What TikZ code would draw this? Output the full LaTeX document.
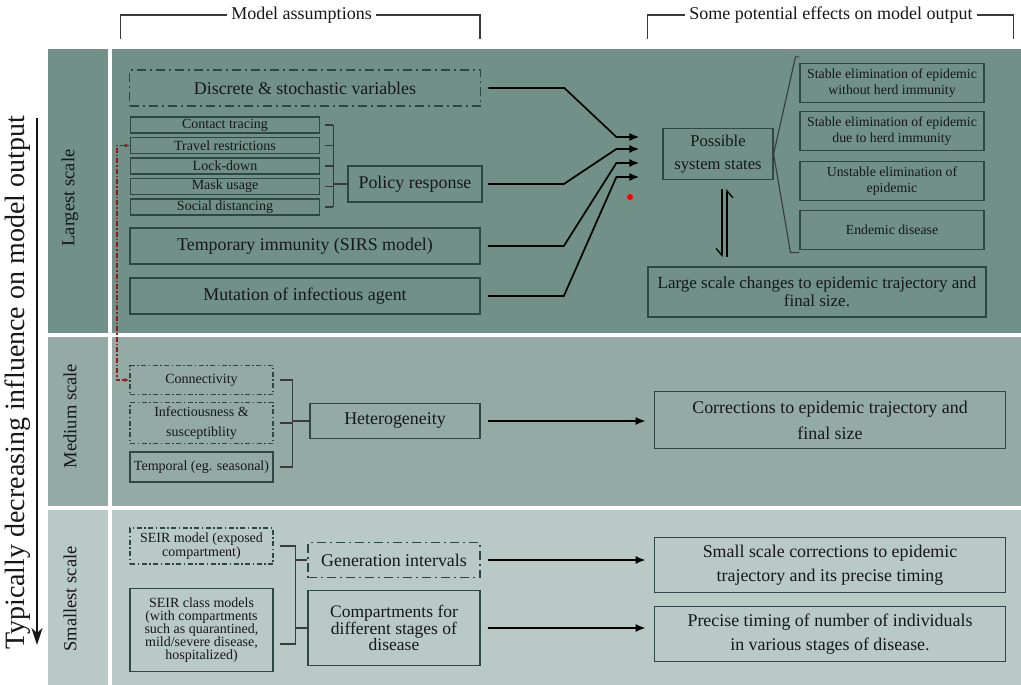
\documentclass[tikz,border=0pt]{standalone}
\usepackage{fontspec}
\setmainfont{Liberation Serif}
\usepackage{tikz}
\usetikzlibrary{arrows.meta}
\usetikzlibrary{positioning}
\usepackage{xcolor}

\definecolor{tealA}{RGB}{112,144,136}
\definecolor{tealB}{RGB}{147,170,165}
\definecolor{tealC}{RGB}{185,201,197}
\definecolor{edge}{RGB}{45,72,68}
\definecolor{ink}{RGB}{22,24,24}
\definecolor{pointer}{RGB}{150,25,25}

\newcommand{\bigtxt}{\fontsize{17.9}{20}\selectfont}
\newcommand{\smalltxt}{\fontsize{14}{15}\selectfont}
\newcommand{\hdtxt}{\fontsize{18}{20}\selectfont}

\begin{document}
\begin{tikzpicture}[x=1pt,y=-1pt,
    every node/.style={text=ink},
    solidbox/.style={draw=edge,line width=1.7pt,align=center,inner sep=0pt,font=\bigtxt},
    dashbox/.style={solidbox,dash pattern=on 9pt off 4pt on 2pt off 4pt},
    smallbox/.style={draw=edge,line width=1.1pt,align=center,inner sep=0pt,font=\smalltxt},
    smalldash/.style={smallbox,dash pattern=on 5pt off 2.5pt on 1.5pt off 2.5pt},
    feed/.style={draw=black,line width=1.7pt,-{Latex[length=10pt,width=8pt]}},
    tie/.style={draw=ink!85,line width=1.1pt},
    harp/.style={draw=black,line width=1.3pt,-{Straight Barb[harpoon,swap,length=7pt,width=12pt]}},
    scalelabel/.style={rotate=90,font=\fontsize{18.5}{20}\selectfont},
  ]
  \useasboundingbox (0,0) rectangle (1021,685);
  \fill[white] (0,0) rectangle (1021,685);

  % bands
  \foreach \ya/\yb/\col in {49/333/tealA, 337/506/tealB, 510/685/tealC} {
    \fill[\col] (48,\ya) rectangle (108,\yb);
    \fill[\col] (112,\ya) rectangle (1021,\yb);
  }

  % headers
  \node[font=\hdtxt,inner xsep=4pt] (hdl) at (301.5,15) {Model assumptions};
  \node[font=\hdtxt,inner xsep=4pt] (hdr) at (831,15) {Some potential effects on model output};
  \draw[tie] (hdl.west) -| ++(-107,24);
  \draw[tie] (hdl.east) -| ++(104,24);
  \draw[tie] (hdr.west) -| ++(-38,24);
  \draw[tie] (hdr.east) -| ++(37,24);

  % trend arrow
  \node[rotate=90,font=\fontsize{28}{30}\selectfont] (trend) at (18,383) {Typically decreasing influence on model output};
  \coordinate (atop) at (37,118);
  \coordinate (abot) at (37,645);
  \draw[draw=ink,line width=2.2pt,-{Stealth[length=17pt,width=11pt,inset=5pt]}] (atop) -- (abot);

  \node[scalelabel] (lab1) at (70,198) {Largest scale};
  \node[scalelabel] (lab2) at (70,416) {Medium scale};
  \node[scalelabel] (lab3) at (70,599) {Smallest scale};

  % largest scale
  \node[dashbox,minimum width=351pt,minimum height=36pt] (disc) at (305,88) {Discrete \& stochastic variables};
  \foreach \name/\txt [count=\i] in {trace/Contact tracing, travel/Travel restrictions, lock/Lock-down, mask/Mask usage, dist/Social distancing}
    \node[smallbox,minimum width=189pt,minimum height=16pt] (\name) at (225,{104.5+20.5*\i}) {\txt};
  \node[solidbox,minimum width=134pt,minimum height=36pt] (policy) at (415,184) {Policy response};
  \node[solidbox,minimum width=350pt,minimum height=36pt] (sirs) at (305,246) {Temporary immunity (SIRS model)};
  \node[solidbox,minimum width=350pt,minimum height=36pt] (mutation) at (305,296) {Mutation of infectious agent};

  \node[solidbox,line width=1.2pt,minimum width=110pt,minimum height=51pt,font=\fontsize{16.6}{23}\selectfont] (states) at (718,154) {Possible\\system states};
  \foreach \name/\yy/\txt in {o1/83/{Stable elimination of epidemic\\without herd immunity},
      o2/131/{Stable elimination of epidemic\\due to herd immunity},
      o3/181/{Unstable elimination of\\epidemic},
      o4/230/{Endemic disease}}
    \node[smallbox,minimum width=184pt,minimum height=39pt,font=\fontsize{13.8}{15.5}\selectfont] (\name) at (892,\yy) {\txt};
  \node[solidbox,minimum width=338pt,minimum height=50pt,font=\fontsize{17}{18}\selectfont] (large) at (817,292) {Large scale changes to epidemic trajectory and\\final size.};

  % medium scale
  \node[smalldash,minimum width=143pt,minimum height=29pt] (conn) at (201.5,380) {Connectivity};
  \node[smalldash,minimum width=143pt,minimum height=41pt,font=\fontsize{14}{20}\selectfont] (infect) at (201.5,423) {Infectiousness \&\\susceptiblity};
  \node[smallbox,minimum width=143pt,minimum height=30pt] (season) at (201.5,467) {Temporal (eg. seasonal)};
  \node[solidbox,minimum width=170pt,minimum height=35pt] (hetero) at (395,421) {Heterogeneity};
  \node[solidbox,minimum width=351pt,minimum height=57pt,font=\fontsize{17.9}{26}\selectfont] (corr) at (830,420) {Corrections to epidemic trajectory and\\final size};

  % smallest scale
  \node[smalldash,minimum width=143pt,minimum height=36pt,font=\fontsize{14}{12.5}\selectfont] (seir) at (201.5,546) {SEIR model (exposed\\compartment)};
  \node[smallbox,minimum width=143pt,minimum height=83pt,font=\fontsize{14}{13}\selectfont] (seirclass) at (201.5,630) {SEIR class models\\(with compartments\\such as quarantined,\\mild/severe disease,\\hospitalized)};
  \node[dashbox,minimum width=172pt,minimum height=35pt] (gen) at (394,560) {Generation intervals};
  \node[solidbox,minimum width=172pt,minimum height=75pt,font=\fontsize{17.5}{16.5}\selectfont] (stages) at (394,628) {Compartments for\\different stages of\\disease};
  \node[solidbox,minimum width=351pt,minimum height=55pt,font=\fontsize{17.9}{24}\selectfont] (small) at (830,565) {Small scale corrections to epidemic\\trajectory and its precise timing};
  \node[solidbox,minimum width=351pt,minimum height=55pt,font=\fontsize{17.9}{24}\selectfont] (timing) at (830,634) {Precise timing of number of individuals\\in various stages of disease.};

  % policy bracket
  \coordinate (pbar) at ([xshift=13pt]trace.east);
  \foreach \name in {trace,travel,lock,mask,dist}
    \draw[tie] ([xshift=5pt]\name.east) -- (pbar |- \name.east);
  \draw[tie] (pbar |- trace.east) -- (pbar |- dist.east);
  \draw[tie] (pbar |- policy.west) -- (policy.west);

  % heterogeneity bracket
  \coordinate (hbar) at ([xshift=19pt]conn.east);
  \foreach \name in {conn,infect,season}
    \draw[tie] ([xshift=6pt]\name.east) -- (hbar |- \name.east);
  \draw[tie] (hbar |- conn.east) -- (hbar |- season.east);
  \draw[tie] (hbar |- hetero.west) -- (hetero.west);

  % smallest bracket
  \coordinate (sbar) at ([xshift=22pt]seir.east);
  \coordinate (sfoot) at ([xshift=6pt,yshift=-14pt]seirclass.east);
  \draw[tie] ([xshift=6pt]seir.east) -- (sbar |- seir.east);
  \draw[tie] (sfoot) -- (sbar |- sfoot);
  \draw[tie] (sbar |- seir.east) -- (sbar |- sfoot);
  \draw[tie] (sbar |- gen.west) -- (gen.west);
  \draw[tie] (sbar |- stages.west) -- (stages.west);

  % inputs to system states
  \coordinate (in1) at ([xshift=-23pt,yshift=17pt]states.west);
  \coordinate (in2) at ([xshift=-23pt,yshift=5pt]states.west);
  \coordinate (in3) at ([xshift=-23pt,yshift=-9pt]states.west);
  \coordinate (in4) at ([xshift=-23pt,yshift=-23pt]states.west);
  \draw[feed] ([xshift=7pt]disc.east) -- ++(76,0) -- ([xshift=-23pt]in1) -- (in1);
  \draw[feed] ([xshift=5pt]policy.east) -- ++(76,0) -- ([xshift=-23pt]in2) -- (in2);
  \draw[feed] ([xshift=7pt]sirs.east) -- ++(76,0) -- ([xshift=-23pt]in3) -- (in3);
  \draw[feed] ([xshift=7pt]mutation.east) -- ++(76,0) -- ([xshift=-23pt]in4) -- (in4);
  \node[circle,fill=red,minimum size=6pt,inner sep=0pt] (dot) at (630,197) {};

  % outcome bracket
  \draw[tie] ([yshift=6pt]o1.north west) -- ++(-4,0) -- (states.east) -- ([shift={(-9pt,-2.5pt)}]o4.south west) -- ++(9,0);

  % two-way harpoons
  \coordinate (hb) at (states.south |- large.north);
  \draw[harp] ([xshift=4pt,yshift=-9pt]states.south) -- ([xshift=4pt,yshift=9pt]hb);
  \draw[harp] ([xshift=9pt,yshift=9pt]hb) -- ([xshift=9pt,yshift=-9pt]states.south);

  % right-hand arrows
  \coordinate (t1) at (corr.west |- hetero.east);
  \coordinate (t2) at (small.west |- gen.east);
  \coordinate (t3) at (timing.west |- stages.east);
  \draw[feed] ([xshift=7pt]hetero.east) -- ([xshift=-8pt]t1);
  \draw[feed] ([xshift=7pt]gen.east) -- ([xshift=-8pt]t2);
  \draw[feed] ([xshift=7pt]stages.east) -- ([xshift=-8pt]t3);

  % travel restrictions link to connectivity
  \draw[pointer,line width=1.1pt,dash pattern=on 5pt off 2pt on 1.5pt off 2pt,{Latex[length=5pt,width=4pt]}-{Latex[length=5pt,width=4pt]}] (travel.west) -- ++(-13,0) |- (conn.west);
\end{tikzpicture}
\end{document}
